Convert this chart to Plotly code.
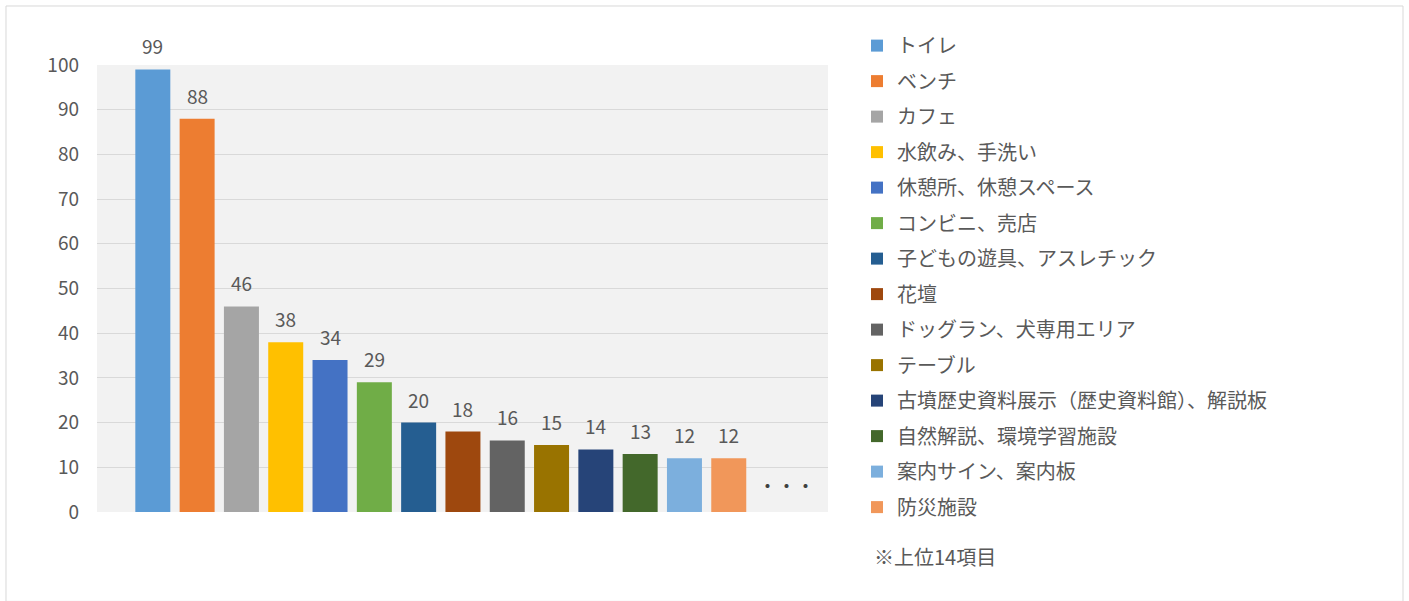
import plotly.graph_objects as go

categories = ["トイレ", "ベンチ", "カフェ", "水飲み、手洗い", "休憩所、休憩スペース", "コンビニ、売店",
              "子どもの遊具、アスレチック", "花壇", "ドッグラン、犬専用エリア", "テーブル",
              "古墳歴史資料展示（歴史資料館）、解説板", "自然解説、環境学習施設", "案内サイン、案内板", "防災施設"]
values = [99, 88, 46, 38, 34, 29, 20, 18, 16, 15, 14, 13, 12, 12]
colors = ["#5B9BD5", "#ED7D31", "#A5A5A5", "#FFC000", "#4472C4", "#70AD47", "#255E91",
          "#9E480E", "#636363", "#997300", "#264478", "#43682B", "#7CAFDD", "#F1975A"]
y_ticks = [0, 10, 20, 30, 40, 50, 60, 70, 80, 90, 100]

FONT = "Noto Sans CJK JP"
TXT = "#595959"

fig = go.Figure()
for i, (c, v, col) in enumerate(zip(categories, values, colors)):
    fig.add_trace(go.Bar(x=[i], y=[v], name=c, marker=dict(color=col, line=dict(width=0)),
                         width=0.79, legendgroup=c, hoverinfo="name+y"))
    fig.add_annotation(x=i, y=v, text=str(v), showarrow=False, yanchor="bottom", yshift=8,
                       font=dict(family=FONT, size=19, color=TXT))

fig.add_annotation(x=14.3, y=6, text="・・・", showarrow=False, font=dict(family=FONT, size=19, color="#404040"))
fig.add_annotation(xref="paper", yref="paper", x=1.06, y=-0.10, xanchor="left", yanchor="middle",
                   text="※上位14項目", showarrow=False, font=dict(family=FONT, size=20, color=TXT))

fig.add_shape(type="rect", xref="paper", yref="paper", x0=-0.1245, x1=1.7866, y0=-0.2, y1=1.132,
              line=dict(color="#D9D9D9", width=1), layer="below")

fig.update_layout(
    width=1409, height=601,
    margin=dict(l=97, r=581, t=65, b=89),
    paper_bgcolor="white", plot_bgcolor="#F2F2F2",
    barmode="overlay",
    font=dict(family=FONT, size=20, color=TXT),
    showlegend=True,
    legend=dict(x=1.0397, y=1.087, xanchor="left", yanchor="top", traceorder="grouped",
                tracegroupgap=6.5, font=dict(family=FONT, size=20, color=TXT),
                itemwidth=30, bgcolor="rgba(0,0,0,0)", maxheight=590),
    xaxis=dict(range=[-1.26, 15.24], showticklabels=False, showgrid=False, zeroline=False, fixedrange=True),
    yaxis=dict(range=[0, 100], tickvals=y_ticks, showgrid=True, gridcolor="#D9D9D9", gridwidth=1,
               zeroline=False, ticks="", ticklabelstandoff=17, tickfont=dict(family=FONT, size=19, color=TXT)),
)

fig.write_html("out.html", config={"displayModeBar": False},
               post_script="document.body.style.margin='0';document.body.style.overflow='hidden';")
